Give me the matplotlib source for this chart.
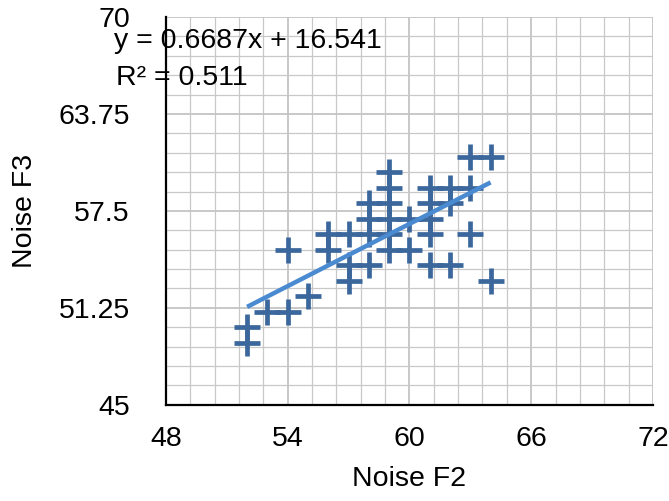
import matplotlib
matplotlib.use('Agg')
import matplotlib.pyplot as plt
from matplotlib.ticker import MultipleLocator
import numpy as np

plt.rcParams['font.family'] = ['Liberation Sans', 'DejaVu Sans']

# noise readings (F2 vs F3)
noise_f2 = [52, 52, 53, 54, 54, 55, 56, 56, 57, 57, 57,
            58, 58, 58, 58, 59, 59, 59, 59, 59, 59, 60, 60,
            61, 61, 61, 61, 61, 62, 62, 62, 63, 63, 63, 64, 64]
noise_f3 = [49, 50, 51, 51, 55, 52, 56, 55, 56, 54, 53,
            58, 57, 56, 54, 60, 59, 58, 57, 56, 55, 57, 55,
            59, 58, 57, 56, 54, 59, 58, 54, 61, 59, 56, 61, 53]

# trendline shown on the chart
slope = 0.6687
intercept = 16.541
r2 = 0.511

x_ticks = [48, 54, 60, 66, 72]
y_ticks = [45, 51.25, 57.5, 63.75, 70]
y_ticklabels = ['45', '51.25', '57.5', '63.75', '70']

fs = 20.5

fig = plt.figure(figsize=(6.69, 5.01), dpi=100)
ax = fig.add_axes([0.248, 0.192, 0.728, 0.774])

ax.set_xlim(48, 72)
ax.set_ylim(45, 70)
ax.set_xticks(x_ticks)
ax.set_yticks(y_ticks)
ax.set_yticklabels(y_ticklabels)
ax.xaxis.set_minor_locator(MultipleLocator(1.2))
ax.yaxis.set_minor_locator(MultipleLocator(1.25))
ax.grid(True, which='major', color='#c4c4c4', linewidth=1.3)
ax.grid(True, which='minor', color='#c8c8c8', linewidth=0.9)
ax.set_axisbelow(True)
ax.tick_params(which='both', length=0)
ax.tick_params(axis='x', labelsize=fs, pad=15)
ax.tick_params(axis='y', labelsize=fs, pad=26)

for s in ['top', 'right']:
    ax.spines[s].set_visible(False)
for s in ['left', 'bottom']:
    ax.spines[s].set_linewidth(1.6)
    ax.spines[s].set_color('black')

ax.scatter(noise_f2, noise_f3, marker='+', s=330, linewidths=3.4,
           color='#3b679c', zorder=3)

xs = np.array([min(noise_f2), max(noise_f2)])
ax.plot(xs, slope * xs + intercept, color='#4a8ad0', linewidth=3.2,
        solid_capstyle='butt', zorder=4)

ax.set_xlabel('Noise F2', fontsize=fs)
ax.set_ylabel('Noise F3', fontsize=fs)
ax.xaxis.set_label_coords(0.5, -0.158)
ax.yaxis.set_label_coords(-0.263, 0.5)

fig.text(114 / 669, 1 - 48 / 501, 'y = %.4fx + %.3f' % (slope, intercept),
         fontsize=fs, va='baseline', ha='left')
fig.text(116 / 669, 1 - 85 / 501, 'R² = %.3f' % r2,
         fontsize=fs, va='baseline', ha='left')

fig.savefig('out.png', dpi=100)
